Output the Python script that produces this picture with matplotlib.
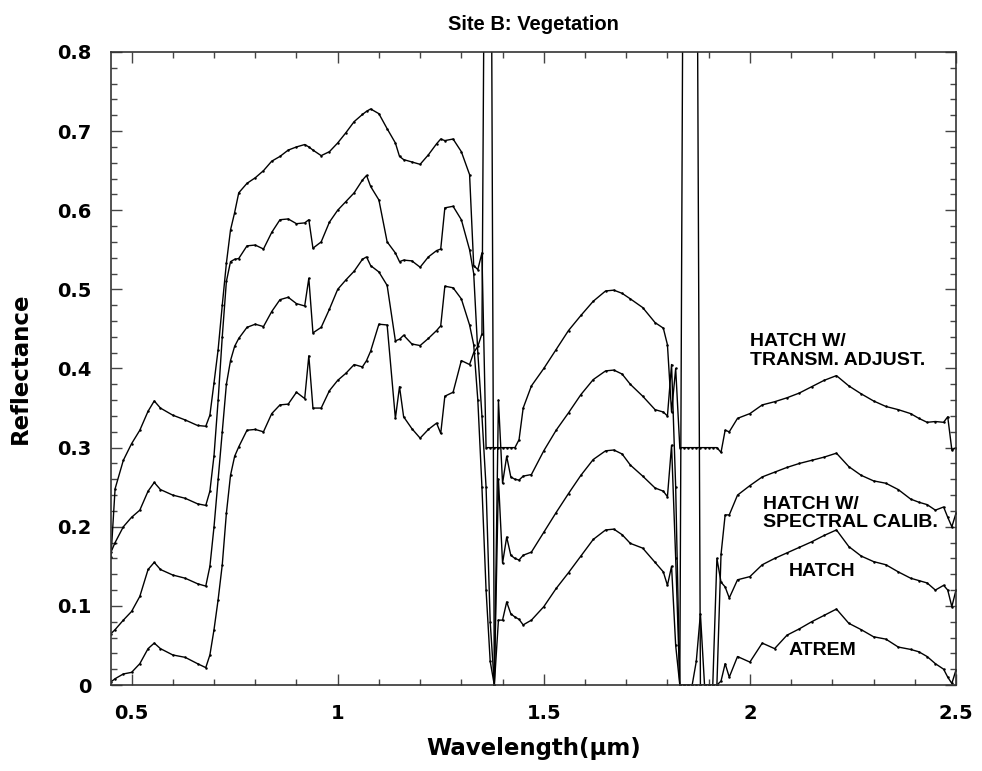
import numpy as np
import matplotlib
matplotlib.use("Agg")
import matplotlib.pyplot as plt
from matplotlib.ticker import MultipleLocator, FixedLocator, FuncFormatter

# wavelength samples (um), one row per spectral region
wavelength = [
    0.45, 0.46, 0.48, 0.50, 0.52, 0.54, 0.555, 0.57, 0.60, 0.63, 0.66, 0.68, 0.69, 0.70, 0.71, 0.72, 0.73, 0.74, 0.75,
    0.76, 0.78, 0.80, 0.82, 0.84, 0.86, 0.88, 0.90, 0.92, 0.93, 0.94, 0.96, 0.98, 1.00, 1.02, 1.04, 1.06, 1.07, 1.08,
    1.10, 1.12, 1.14, 1.15, 1.16, 1.18, 1.20, 1.22, 1.24, 1.25, 1.26, 1.28, 1.30, 1.32, 1.33,
    1.34, 1.35, 1.36, 1.37, 1.38, 1.39, 1.40, 1.41, 1.42, 1.43, 1.44, 1.45,
    1.47, 1.50, 1.53, 1.56, 1.59, 1.62, 1.65, 1.67, 1.69, 1.71, 1.74, 1.77, 1.79, 1.80,
    1.81, 1.82, 1.83, 1.84, 1.85, 1.86, 1.87, 1.88, 1.89, 1.90, 1.91, 1.92, 1.93, 1.94, 1.95,
    1.97, 2.00, 2.03, 2.06, 2.09, 2.12, 2.15, 2.18, 2.21, 2.24, 2.27, 2.30, 2.33, 2.36, 2.39, 2.41, 2.43, 2.45, 2.47,
    2.48, 2.49, 2.50,
]

# reflectance of each retrieval (before the vertical offset used in the plot)
atrem = [
    0.004, 0.008, 0.014, 0.016, 0.027, 0.046, 0.053, 0.046, 0.038, 0.035, 0.027, 0.022, 0.038, 0.070, 0.108, 0.152, 0.217, 0.265, 0.289,
    0.301, 0.322, 0.323, 0.320, 0.343, 0.354, 0.355, 0.370, 0.362, 0.416, 0.350, 0.350, 0.372, 0.385, 0.394, 0.405, 0.402, 0.410, 0.422,
    0.456, 0.455, 0.337, 0.377, 0.339, 0.324, 0.312, 0.323, 0.331, 0.318, 0.365, 0.370, 0.410, 0.405, 0.420,
    0.428, 0.444, 1.300, 1.300, 0.000, 0.082, 0.082, 0.105, 0.090, 0.086, 0.083, 0.076,
    0.082, 0.099, 0.122, 0.142, 0.163, 0.184, 0.196, 0.197, 0.190, 0.179, 0.173, 0.155, 0.143, 0.126,
    0.150, 0.050, 0.000, 0.000, 0.000, 0.000, 0.030, 0.090, 0.000, 0.000, 0.000, 0.000, 0.005, 0.027, 0.010,
    0.036, 0.029, 0.053, 0.046, 0.063, 0.071, 0.080, 0.088, 0.096, 0.078, 0.070, 0.061, 0.058, 0.048, 0.045, 0.042, 0.036, 0.027, 0.020,
    0.010, 0.002, 0.019,
]
hatch = [
    -0.035, -0.030, -0.018, -0.007, 0.012, 0.046, 0.055, 0.046, 0.039, 0.035, 0.028, 0.025, 0.050, 0.100, 0.160, 0.220, 0.280, 0.310, 0.328,
    0.338, 0.352, 0.356, 0.353, 0.372, 0.387, 0.390, 0.382, 0.379, 0.414, 0.345, 0.352, 0.375, 0.400, 0.412, 0.423, 0.438, 0.441, 0.430,
    0.422, 0.405, 0.335, 0.337, 0.342, 0.331, 0.329, 0.338, 0.348, 0.354, 0.404, 0.402, 0.388, 0.355, 0.330,
    0.260, 0.150, 0.020, -0.070, -0.100, 0.160, 0.054, 0.087, 0.064, 0.060, 0.058, 0.064,
    0.068, 0.093, 0.118, 0.142, 0.165, 0.185, 0.196, 0.197, 0.192, 0.178, 0.164, 0.149, 0.145, 0.138,
    0.203, 0.060, -0.100, 1.100, 1.100, 1.100, 1.100, -0.100, -0.100, -0.100, -0.100, 0.060, 0.030, 0.024, 0.010,
    0.033, 0.037, 0.052, 0.060, 0.067, 0.074, 0.081, 0.089, 0.096, 0.075, 0.063, 0.056, 0.052, 0.043, 0.035, 0.032, 0.029, 0.020, 0.026,
    0.020, -0.001, 0.020,
]
hatch_spectral = [
    -0.032, -0.020, 0.000, 0.012, 0.021, 0.045, 0.056, 0.047, 0.040, 0.036, 0.029, 0.027, 0.045, 0.090, 0.160, 0.240, 0.310, 0.335, 0.338,
    0.339, 0.355, 0.356, 0.351, 0.372, 0.388, 0.389, 0.383, 0.384, 0.388, 0.352, 0.360, 0.385, 0.400, 0.411, 0.422, 0.438, 0.444, 0.430,
    0.413, 0.360, 0.346, 0.335, 0.337, 0.336, 0.328, 0.341, 0.349, 0.351, 0.403, 0.405, 0.388, 0.350, 0.320,
    0.220, 0.140, 0.050, -0.120, -0.200, 0.160, 0.055, 0.089, 0.063, 0.060, 0.059, 0.064,
    0.066, 0.096, 0.122, 0.144, 0.167, 0.186, 0.197, 0.198, 0.193, 0.180, 0.165, 0.148, 0.145, 0.140,
    0.205, 0.050, -0.200, -0.200, -0.200, -0.200, -0.200, -0.200, -0.200, -0.200, -0.200, -0.200, -0.035, 0.015, 0.015,
    0.040, 0.052, 0.063, 0.069, 0.075, 0.080, 0.084, 0.088, 0.093, 0.076, 0.065, 0.058, 0.055, 0.047, 0.035, 0.031, 0.028, 0.021, 0.025,
    0.012, 0.000, 0.017,
]
hatch_transm = [
    -0.138, -0.052, -0.016, 0.005, 0.022, 0.046, 0.059, 0.050, 0.041, 0.035, 0.028, 0.027, 0.041, 0.082, 0.124, 0.180, 0.233, 0.275, 0.297,
    0.322, 0.334, 0.341, 0.350, 0.362, 0.368, 0.376, 0.380, 0.383, 0.380, 0.376, 0.369, 0.374, 0.385, 0.398, 0.412, 0.421, 0.425, 0.428,
    0.422, 0.403, 0.385, 0.368, 0.364, 0.361, 0.358, 0.370, 0.384, 0.390, 0.388, 0.390, 0.374, 0.345, 0.230,
    0.225, 0.246, 0.000, 0.000, 0.000, 0.000, 0.000, 0.000, 0.000, 0.000, 0.010, 0.050,
    0.078, 0.100, 0.124, 0.148, 0.167, 0.185, 0.198, 0.199, 0.195, 0.188, 0.177, 0.158, 0.151, 0.130,
    0.045, 0.100, 0.000, 0.000, 0.000, 0.000, 0.000, 0.000, 0.000, 0.000, 0.000, 0.000, -0.006, 0.022, 0.020,
    0.037, 0.043, 0.054, 0.058, 0.063, 0.069, 0.077, 0.085, 0.091, 0.078, 0.068, 0.059, 0.052, 0.048, 0.043, 0.037, 0.032, 0.033, 0.032,
    0.039, -0.003, 0.000,
]

curves = [atrem, hatch, hatch_spectral, hatch_transm]
offsets = [0.0, 0.1, 0.2, 0.3]
labels = ["ATREM", "HATCH", "HATCH W/\nSPECTRAL CALIB.", "HATCH W/\nTRANSM. ADJUST."]
label_pos = [(2.175, 0.044), (2.175, 0.143), (2.032, 0.217), (2.0, 0.422)]
label_align = ["center", "center", "left", "left"]

plt.rcParams['font.family'] = ['DejaVu Sans']
plt.rcParams['font.weight'] = 'bold'

fig = plt.figure(figsize=(9.82, 7.71), dpi=100)
ax = fig.add_axes([0.113, 0.1115, 0.8605, 0.8211])

wl = np.array(wavelength)
for refl, off in zip(curves, offsets):
    ax.plot(wl, np.array(refl) + off, color='black', lw=1.0, marker='.', ms=1.6)

for text, (x, y), ha in zip(labels, label_pos, label_align):
    ax.text(x, y, text, ha=ha, va='center', fontsize=14, fontweight='bold',
            family='Liberation Sans', linespacing=1.1)

ax.set_xlim(0.45, 2.5)
ax.set_ylim(0, 0.8)

ax.xaxis.set_major_locator(FixedLocator([0.5, 1.0, 1.5, 2.0, 2.5]))
ax.xaxis.set_minor_locator(MultipleLocator(0.1))
ax.yaxis.set_major_locator(MultipleLocator(0.1))
ax.yaxis.set_minor_locator(MultipleLocator(0.02))
ax.xaxis.set_major_formatter(FuncFormatter(lambda v, p: f"{v:g}"))
ax.yaxis.set_major_formatter(FuncFormatter(lambda v, p: "0" if abs(v) < 1e-9 else f"{v:.1f}"))

ax.tick_params(which='both', direction='in', top=True, right=True, width=1.0, color='#444444')
ax.tick_params(which='major', length=8, pad=14, labelsize=14)
ax.tick_params(which='minor', length=4.5)
for s in ax.spines.values():
    s.set_linewidth(1.2)
    s.set_color('#333333')

ax.set_xlabel('Wavelength(\u03bcm)', fontsize=16.5, fontweight='bold', labelpad=10)
ax.set_ylabel('Reflectance', fontsize=16.5, fontweight='bold', labelpad=18)
ax.set_title('Site B: Vegetation', fontsize=14.5, fontweight='bold', family='Liberation Sans', pad=16)

fig.savefig('out.png', dpi=100)
